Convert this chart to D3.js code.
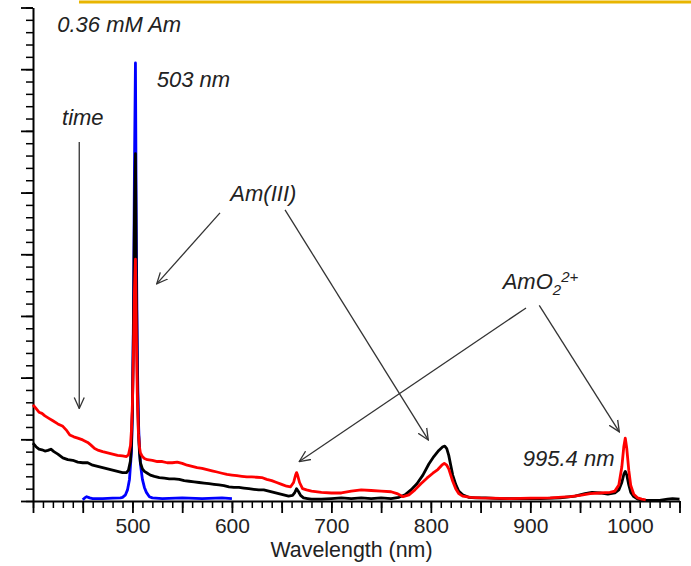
<!DOCTYPE html>
<html>
<head>
<meta charset="utf-8">
<script src="https://cdn.jsdelivr.net/npm/d3@7"></script>
<style>
  body { margin: 0; background: #fff; }
  svg { display: block; font-family: "Liberation Sans", Arial, sans-serif; }
  .axis path, .axis line { stroke: #000; }
  .axis text { font-size: 21px; fill: #222; }
  .note { font-size: 22px; font-style: italic; fill: #222; }
</style>
</head>
<body>
<div id="chart"></div>
<script>
// Spectra: [wavelength nm, intensity a.u.]
var blueSpec = [
  [450, 0.02], [452, 0.05], [454, 0.07], [457, 0.05], [460, 0.04], [470, 0.04],
  [480, 0.045], [488, 0.05], [490, 0.06], [493, 0.10], [495, 0.18], [497, 0.35],
  [499, 0.8], [500, 1.5], [501, 3.0], [502, 5.4], [503, 7.1], [504, 4.0],
  [505, 2.2], [506, 1.3], [507, 0.85], [508, 0.6], [510, 0.35], [512, 0.22],
  [514, 0.14], [517, 0.07], [520, 0.05], [530, 0.04], [550, 0.05], [570, 0.04],
  [590, 0.05], [600, 0.04]
];

var blackSpec = [
  [400, 0.94], [403, 0.88], [406, 0.84], [409, 0.83], [412, 0.81], [415, 0.82],
  [418, 0.84], [421, 0.80], [425, 0.76], [430, 0.70], [435, 0.67], [440, 0.66],
  [445, 0.63], [450, 0.62], [455, 0.62], [460, 0.58], [465, 0.56], [470, 0.54],
  [475, 0.52], [480, 0.50], [485, 0.48], [490, 0.46], [494, 0.46], [496, 0.50],
  [498, 0.65], [499, 0.9], [500, 1.5], [501, 2.8], [502, 4.6], [503, 5.63],
  [504, 3.4], [505, 1.9], [506, 1.15], [507, 0.8], [508, 0.62], [510, 0.52],
  [512, 0.48], [515, 0.45], [518, 0.42], [522, 0.40], [527, 0.38], [532, 0.37],
  [537, 0.36], [542, 0.36], [547, 0.35], [552, 0.33], [557, 0.32], [562, 0.31],
  [567, 0.30], [572, 0.29], [577, 0.28], [582, 0.27], [587, 0.26], [592, 0.25],
  [597, 0.23], [602, 0.22], [607, 0.22], [612, 0.21], [617, 0.20], [622, 0.19],
  [627, 0.18], [632, 0.18], [637, 0.16], [642, 0.14], [647, 0.12], [652, 0.10],
  [657, 0.08], [661, 0.09], [663, 0.13], [665, 0.20], [667, 0.15], [669, 0.09],
  [672, 0.05], [676, 0.04], [680, 0.03], [690, 0.03], [700, 0.04], [710, 0.05],
  [720, 0.04], [730, 0.05], [740, 0.04], [750, 0.05], [760, 0.04], [768, 0.06],
  [774, 0.10], [780, 0.18], [786, 0.28], [792, 0.42], [798, 0.60], [803, 0.72],
  [808, 0.82], [812, 0.88], [814, 0.89], [816, 0.85], [818, 0.74], [820, 0.58],
  [822, 0.42], [825, 0.27], [828, 0.16], [832, 0.10], [838, 0.06], [845, 0.05],
  [855, 0.05], [870, 0.04], [890, 0.04], [910, 0.04], [930, 0.05], [945, 0.08],
  [955, 0.12], [962, 0.14], [970, 0.13], [978, 0.11], [985, 0.13], [989, 0.18],
  [992, 0.30], [994, 0.43], [995.5, 0.48], [997, 0.42], [999, 0.26], [1001, 0.14],
  [1004, 0.07], [1008, 0.03], [1014, 0.01], [1020, 0.01], [1030, 0.01],
  [1038, 0.03], [1043, 0.04], [1050, 0.03]
];

var redSpec = [
  [400, 1.56], [403, 1.50], [406, 1.44], [409, 1.42], [412, 1.38], [416, 1.34],
  [420, 1.30], [425, 1.25], [430, 1.21], [434, 1.14], [437, 1.07], [441, 1.04],
  [445, 1.02], [450, 0.99], [455, 0.95], [458, 0.91], [462, 0.85], [466, 0.82],
  [470, 0.80], [475, 0.78], [480, 0.76], [485, 0.74], [490, 0.73], [494, 0.72],
  [496, 0.75], [498, 0.90], [499, 1.15], [500, 1.6], [501, 2.4], [502, 3.4],
  [503, 3.92], [504, 2.6], [505, 1.6], [506, 1.1], [507, 0.88], [508, 0.78],
  [510, 0.72], [512, 0.69], [515, 0.67], [520, 0.66], [525, 0.64], [530, 0.64],
  [535, 0.62], [540, 0.62], [545, 0.63], [550, 0.61], [555, 0.58], [560, 0.56],
  [565, 0.54], [570, 0.53], [575, 0.51], [580, 0.49], [585, 0.47], [590, 0.45],
  [595, 0.43], [600, 0.42], [605, 0.41], [610, 0.40], [615, 0.39], [620, 0.39],
  [625, 0.385], [630, 0.38], [635, 0.35], [640, 0.33], [645, 0.30], [650, 0.27],
  [655, 0.24], [659, 0.23], [662, 0.30], [664, 0.42], [665, 0.46], [666, 0.42],
  [668, 0.30], [671, 0.20], [675, 0.18], [680, 0.16], [690, 0.14], [700, 0.13],
  [710, 0.13], [720, 0.16], [730, 0.18], [740, 0.17], [750, 0.16], [760, 0.15],
  [766, 0.12], [772, 0.07], [778, 0.10], [784, 0.18], [790, 0.28], [796, 0.37],
  [802, 0.45], [807, 0.51], [811, 0.58], [813.5, 0.61], [816, 0.58], [818, 0.52],
  [820, 0.42], [822, 0.32], [825, 0.20], [828, 0.12], [832, 0.08], [840, 0.06],
  [850, 0.05], [860, 0.045], [880, 0.04], [900, 0.045], [920, 0.05], [940, 0.07],
  [950, 0.09], [960, 0.12], [970, 0.13], [980, 0.14], [985, 0.16], [989, 0.26],
  [992, 0.55], [994, 0.88], [995.5, 1.02], [997, 0.85], [999, 0.50], [1001, 0.25],
  [1004, 0.11], [1008, 0.05], [1012, 0.03], [1016, 0.02]
];

// Axis ticks
var xMinorTicks = d3.range(400, 1051, 10);
var xMajorTicks = d3.range(400, 1051, 50);
var xLabelTicks = [500, 600, 700, 800, 900, 1000];
var yMinorTicks = d3.range(0, 8.01, 0.2);
var yMajorTicks = d3.range(0, 8.01, 1);

// Annotations in data units
var notes = [
  {text: '0.36 mM Am', nm: 424.4, v: 7.61},
  {text: '503 nm', nm: 524.4, v: 6.71},
  {text: 'time', nm: 429.2, v: 6.09},
  {text: 'Am(III)', nm: 598.4, v: 4.87},
  {text: '995.4 nm', nm: 892.4, v: 0.57}
];
var arrows = [
  [[446.5, 5.82], [446.5, 1.50]],
  [[588.0, 4.67], [524.4, 3.52]],
  [[653.4, 4.72], [797.4, 0.99]],
  [[895.7, 3.13], [667.7, 0.64]],
  [[909.0, 3.17], [989.5, 1.12]]
];

var W = 691, H = 566;
var margin = {top: 7.5, left: 33, right: 11.5, bottom: 65};
var width = W - margin.left - margin.right,
    height = H - margin.top - margin.bottom;

var x = d3.scaleLinear().domain([400, 1050]).range([0, width]);
var y = d3.scaleLinear().domain([0, 8]).range([height, 0]);

var svg = d3.select('#chart').append('svg')
    .attr('width', W)
    .attr('height', H);

// slide rule at the top
svg.append('line')
    .attr('x1', 79).attr('x2', W)
    .attr('y1', 2).attr('y2', 2)
    .attr('stroke', '#E8B500')
    .attr('stroke-width', 3);

svg.append('defs').append('marker')
    .attr('id', 'head')
    .attr('viewBox', '0 0 12 12')
    .attr('refX', 11).attr('refY', 6)
    .attr('markerWidth', 12).attr('markerHeight', 12)
    .attr('markerUnits', 'userSpaceOnUse')
    .attr('orient', 'auto')
  .append('path')
    .attr('d', 'M0,1 L11,6 L0,11')
    .attr('fill', 'none')
    .attr('stroke', '#333')
    .attr('stroke-width', 1.3);

var g = svg.append('g')
    .attr('transform', 'translate(' + margin.left + ',' + margin.top + ')');

// minor ticks
g.append('g')
    .attr('class', 'axis')
    .attr('transform', 'translate(0,' + height + ')')
    .call(d3.axisBottom(x).tickValues(xMinorTicks).tickSize(7).tickSizeOuter(0).tickFormat(''))
    .call(function(a) { a.select('.domain').remove(); a.selectAll('line').attr('stroke-width', 1.5); });

g.append('g')
    .attr('class', 'axis')
    .call(d3.axisLeft(y).tickValues(yMinorTicks).tickSize(7).tickSizeOuter(0).tickFormat(''))
    .call(function(a) { a.select('.domain').remove(); a.selectAll('line').attr('stroke-width', 1.5); });

// major ticks
g.append('g')
    .attr('class', 'axis')
    .attr('transform', 'translate(0,' + height + ')')
    .call(d3.axisBottom(x).tickValues(xMajorTicks).tickSize(12).tickSizeOuter(0)
      .tickFormat(function(d) { return xLabelTicks.indexOf(d) >= 0 ? d : ''; }))
    .call(function(a) {
      a.select('.domain').attr('stroke-width', 2);
      a.selectAll('line').attr('stroke-width', 1.8);
      a.selectAll('text').attr('y', 17);
    });

g.append('g')
    .attr('class', 'axis')
    .call(d3.axisLeft(y).tickValues(yMajorTicks).tickSize(12).tickSizeOuter(0).tickFormat(''))
    .call(function(a) {
      a.select('.domain').attr('stroke-width', 2);
      a.selectAll('line').attr('stroke-width', 1.8);
    });

g.append('text')
    .attr('x', 318.5)
    .attr('y', 556.5 - margin.top)
    .attr('text-anchor', 'middle')
    .style('font-size', '21.4px')
    .style('fill', '#222')
    .text('Wavelength (nm)');

var line = d3.line()
    .x(function(d) { return x(d[0]); })
    .y(function(d) { return y(d[1]); });

[[blueSpec, '#0000ff'], [blackSpec, '#000000'], [redSpec, '#ff0000']].forEach(function(s) {
  g.append('path')
      .datum(s[0])
      .attr('fill', 'none')
      .attr('stroke', s[1])
      .attr('stroke-width', 2.8)
      .attr('stroke-linejoin', 'round')
      .attr('d', line);
});

// arrows
g.selectAll('.arrow')
    .data(arrows)
  .enter().append('line')
    .attr('class', 'arrow')
    .attr('x1', function(d) { return x(d[0][0]); })
    .attr('y1', function(d) { return y(d[0][1]); })
    .attr('x2', function(d) { return x(d[1][0]); })
    .attr('y2', function(d) { return y(d[1][1]); })
    .attr('stroke', '#333')
    .attr('stroke-width', 1.3)
    .attr('marker-end', 'url(#head)');

g.selectAll('.note')
    .data(notes)
  .enter().append('text')
    .attr('class', 'note')
    .attr('x', function(d) { return x(d.nm); })
    .attr('y', function(d) { return y(d.v); })
    .text(function(d) { return d.text; });

var amo = g.append('text')
    .attr('class', 'note')
    .attr('x', x(872.2))
    .attr('y', y(3.43));
amo.append('tspan').text('AmO');
amo.append('tspan').attr('dy', 6).style('font-size', '15px').text('2');
amo.append('tspan').attr('dy', -13).style('font-size', '15px').text('2+');
</script>
</body>
</html>
